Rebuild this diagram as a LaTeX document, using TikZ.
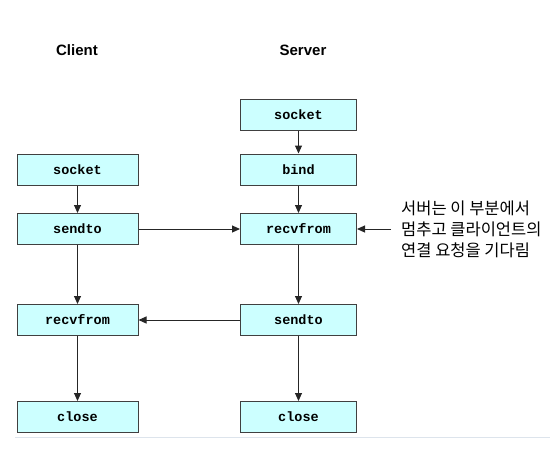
\documentclass[tikz,border=0pt]{standalone}
\usepackage{fontspec}
\setmainfont{Liberation Sans}
\setmonofont{Liberation Mono}
\newfontfamily\krfont{Noto Sans CJK KR}
\usetikzlibrary{arrows.meta, positioning}
\definecolor{boxfill}{HTML}{CCFFFF}
\definecolor{rulegray}{HTML}{DDE4EC}

\begin{document}
\begin{tikzpicture}[x=1pt, y=-1pt,
		callbox/.style={draw=black!75, line width=1pt, fill=boxfill, minimum height=31pt, inner sep=0pt, font=\ttfamily\bfseries\fontsize{13.5}{15}\selectfont},
		cbox/.style={callbox, minimum width=121pt},
		sbox/.style={callbox, minimum width=116pt},
		flow/.style={draw=black!85, line width=1pt, -{Triangle[length=8pt, width=7pt]}},
		title/.style={font=\bfseries\fontsize{15}{18}\selectfont}]
	\useasboundingbox (0,0) rectangle (550,459);

	% Column titles
	\node[title] (client) at (77,50) {Client};
	\node[title] (server) at (303,50) {Server};

	% Client calls
	\node[cbox] (csock) at (77.5,169.5) {socket};
	\node[cbox] (csend) at (77.5,229) {sendto};
	\node[cbox] (crecv) at (77.5,320) {recvfrom};
	\node[cbox] (cclose) at (77.5,417) {close};

	% Server calls
	\node[sbox] (ssock) at (298.5,114.5) {socket};
	\node[sbox] (sbind) at (298.5,169.5) {bind};
	\node[sbox] (srecv) at (298.5,229) {recvfrom};
	\node[sbox] (ssend) at (298.5,320) {sendto};
	\node[sbox] (sclose) at (298.5,417) {close};

	% Vertical flow
	\draw[flow] (csock) -- (csend);
	\draw[flow] (csend) -- (crecv);
	\draw[flow] (crecv) -- (cclose);
	\draw[flow] (ssock) -- (sbind);
	\draw[flow] (sbind) -- (srecv);
	\draw[flow] (srecv) -- (ssend);
	\draw[flow] (ssend) -- (sclose);

	% Datagrams between the two sides
	\draw[flow] (csend) -- (srecv);
	\draw[flow] (ssend) -- (crecv);

	% Note on blocking recvfrom
	\node[anchor=west, align=left, inner xsep=10pt, inner ysep=0pt, font=\krfont\fontsize{16.5}{21}\selectfont] (note) at (391,229) {서버는 이 부분에서\\멈추고 클라이언트의\\연결 요청을 기다림};
	\draw[flow] (note.west) -- (srecv.east);

	% Page rule
	\draw[rulegray, line width=1pt] (15,437.5) -- (550,437.5);
\end{tikzpicture}
\end{document}
